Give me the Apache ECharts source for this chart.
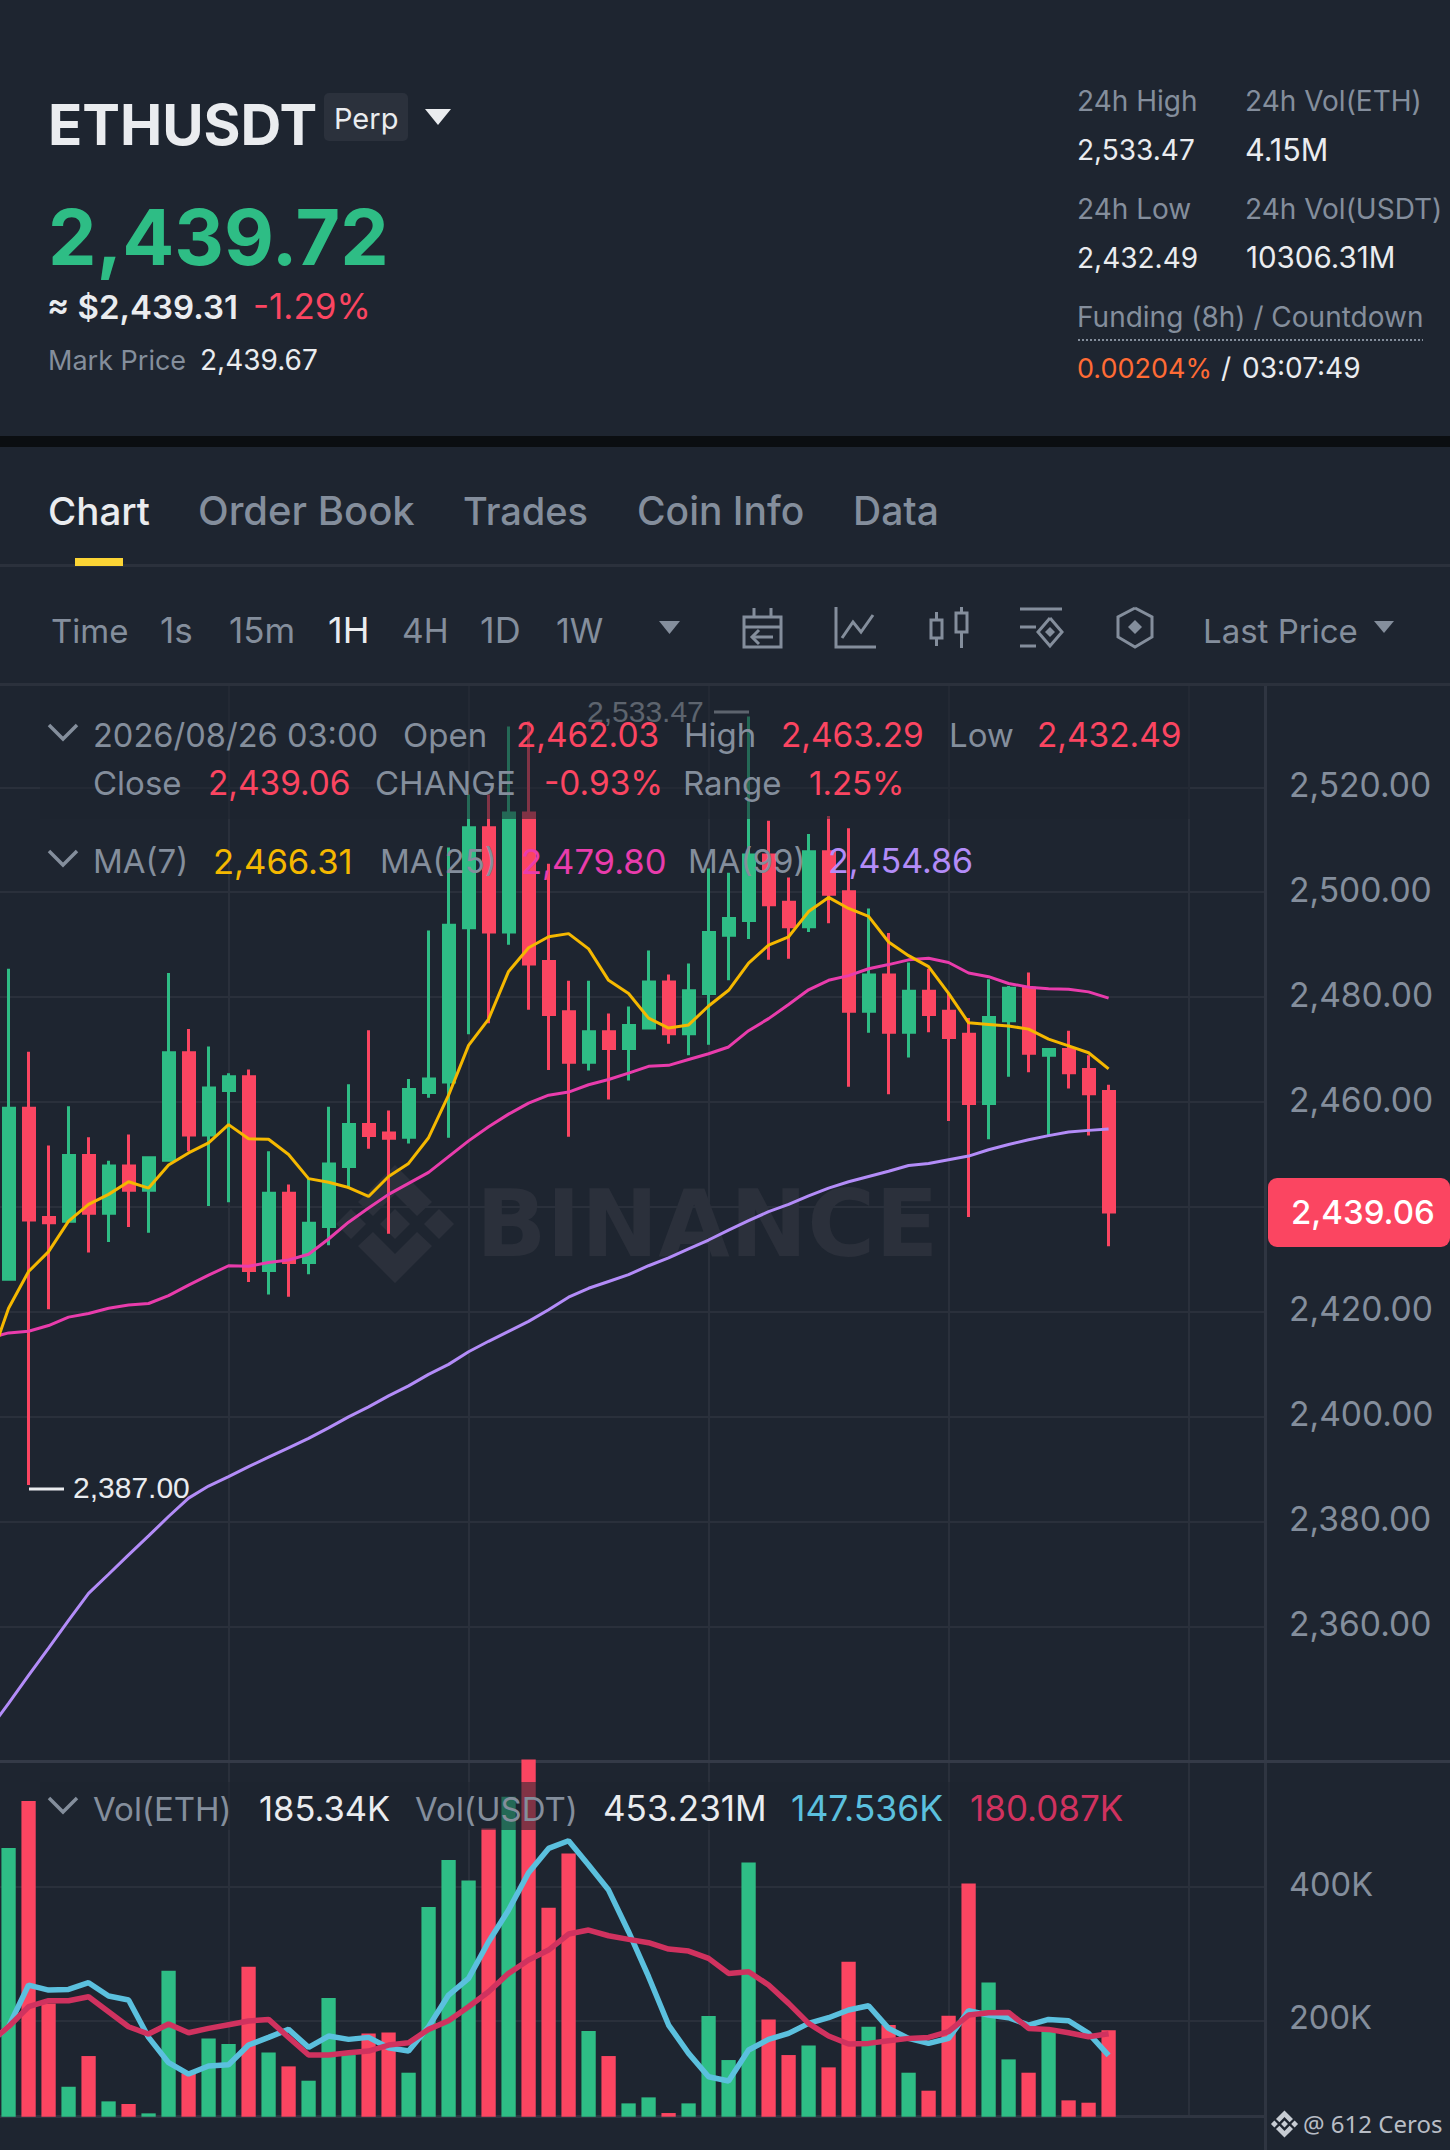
<!DOCTYPE html>
<html><head><meta charset="utf-8"><title>ETHUSDT Perp</title>
<style>html,body{margin:0;padding:0;background:#1e2530}#c{width:1450px;height:2150px}</style>
<script src="https://cdn.jsdelivr.net/npm/echarts@6/dist/echarts.min.js"></script></head>
<body><div id="c"></div>
<script>
const opens=[2426.2,2458.8,2438.0,2437.3,2449.8,2438.8,2447.8,2443.2,2448.9,2469.4,2453.7,2462.2,2464.8,2427.9,2442.6,2429.4,2436.3,2447.7,2455.7,2454.1,2453.3,2461.8,2463.8,2493.2,2512.3,2492.4,2515.1,2486.8,2477.2,2467.6,2473.4,2470.2,2474.1,2482.9,2473.0,2480.7,2491.8,2494.6,2507.1,2498.1,2493.4,2507.7,2500.1,2477.3,2484.2,2473.3,2481.1,2477.3,2472.9,2459.7,2475.5,2481.7,2468.9,2470.0,2466.2,2462.03];
const closes=[2458.8,2437.5,2437.0,2449.8,2438.8,2447.8,2443.2,2449.4,2469.4,2453.7,2462.7,2464.8,2427.9,2442.6,2429.4,2436.9,2448.2,2455.7,2453.6,2453.1,2462.4,2464.4,2493.7,2512.3,2492.4,2515.1,2486.3,2476.7,2467.6,2473.4,2470.2,2474.6,2482.9,2473.0,2481.2,2492.3,2495.0,2507.1,2497.6,2493.4,2507.7,2499.6,2477.3,2484.2,2473.3,2481.1,2476.7,2472.3,2459.7,2476.1,2481.7,2469.3,2470.0,2465.6,2461.6,2439.06];
const lows=[2426.2,2387.0,2420.5,2437.3,2431.3,2433.3,2436.2,2435.1,2448.9,2450.6,2440.2,2440.9,2425.7,2423.3,2422.9,2427.2,2432.7,2443.5,2451.1,2434.9,2452.1,2460.8,2453.2,2472.9,2475.0,2490.0,2477.6,2466.1,2453.4,2466.0,2460.5,2464.1,2474.1,2471.1,2468.9,2470.9,2483.2,2491.1,2487.1,2487.3,2492.4,2494.1,2462.9,2473.2,2461.5,2468.5,2473.3,2456.4,2438.1,2452.9,2464.8,2465.7,2453.6,2462.6,2453.6,2432.49];
const highs=[2485.4,2469.6,2451.7,2459.2,2453.3,2448.8,2453.8,2449.5,2484.6,2473.9,2470.6,2465.5,2466.2,2450.6,2444.3,2445.4,2459.1,2463.4,2473.7,2458.4,2464.4,2492.7,2508.5,2518.6,2518.6,2531.6,2532.6,2505.4,2483.1,2483.1,2476.9,2478.2,2488.9,2484.3,2486.4,2504.5,2503.7,2533.47,2513.6,2502.8,2511.1,2514.5,2512.2,2496.9,2492.2,2486.6,2485.4,2480.7,2476.0,2483.4,2482.1,2484.7,2470.3,2473.6,2468.9,2463.29];
const ma7=[2409.8,2420.7,2427.7,2431.5,2437.3,2440.5,2442.4,2444.8,2443.6,2448,2450.3,2452.2,2455.7,2453,2452.9,2450,2445.4,2444.7,2443.7,2442,2445.8,2448.3,2453.2,2461.3,2470.8,2475.8,2484.9,2489.4,2491.5,2492.1,2489.2,2483.2,2480.7,2476,2474.1,2474.7,2478.3,2481.3,2486.5,2489.9,2491.5,2496.3,2499,2496.9,2495.4,2490.5,2487.9,2485.8,2480.7,2475.1,2474.8,2474.5,2473.9,2472,2470.7,2469.4,2466.31];
const ma25=[2415,2416,2416.3,2417.4,2419,2419.7,2420.7,2421.3,2421.6,2423.1,2425.1,2427,2428.8,2428.7,2429.4,2429.9,2431,2433.9,2437.1,2439.8,2442.4,2444.5,2446.6,2449.6,2452.6,2455.3,2457.7,2459.8,2461.3,2461.9,2463.3,2464.3,2465.5,2466.8,2467,2468.1,2469.2,2470.5,2473.6,2475.9,2478.6,2481.4,2483.2,2484.1,2485.4,2486.2,2487.1,2487.4,2486.6,2484.6,2483.9,2482.6,2481.9,2481.6,2481.5,2481,2479.8];
const ma99=[2340.2,2345.4,2350.7,2355.9,2361.2,2366.35,2370,2373.7,2377.3,2381,2384.5,2386.8,2388.6,2390.5,2392.3,2394.1,2395.9,2397.9,2400,2401.9,2404,2405.9,2408.1,2410,2412.4,2414.4,2416.3,2418.2,2420.4,2422.8,2424.5,2425.8,2427.1,2428.8,2430.3,2432,2433.7,2435.6,2437.4,2439.1,2440.5,2442.1,2443.6,2444.8,2445.8,2446.8,2447.9,2448.3,2449,2449.7,2450.9,2451.9,2452.8,2453.6,2454.3,2454.6,2454.86];
const volumes=[458.5,529,225.5,100.5,146.5,78.5,74.5,60.5,274.5,120.5,173,164.5,280.5,152,131,109.5,233.5,148,180.5,182,121.5,370,440.5,410,488,535.5,591.5,369,450.5,184,146.5,75.5,84.5,61,75.5,206.5,140.5,437,201.5,148,162.5,129.5,288,190.5,193,121.5,94.5,207,405.5,257,141.5,121.5,185.5,80,76.5,185.34];
const volFast=[165,190.5,253,245.5,246.5,256.5,236.5,230.5,174.5,136.5,119.5,131.5,133.5,163,174.5,186.5,159.5,176.5,171.5,174.5,159,154,190.5,238,263,318,365.5,421.5,458,469.5,433,395.5,333,265.5,193,150.5,115.5,109,155.5,171.5,180.5,195.5,204,215.5,222,188,173,165.5,173,214.5,208,204,193,201.5,199.5,180.5,147.536];
const volSlow=[165,190.5,220.5,229.5,229.5,235.5,213,190.5,179.5,194.5,181.5,188,193.5,199,201.5,174.5,148,148,151.5,154,163,166.5,186.5,199.5,220.5,243,270.5,290.5,305.5,329.5,335.5,327,321.5,316.5,307,304,293,270.5,273,253,225.5,195.5,176.5,164.5,165.5,169.5,173,174.5,183,208,211.5,212,188,186.5,181.5,175.5,180.087];
const priceTicks=[2360,2380,2400,2420,2440,2460,2480,2500,2520];
const priceLabels=[2360,2380,2400,2420,2460,2480,2500,2520];
const volTicks=[200000,400000];
const gridCandles=[11,23,35,47,59];

const BG='#1e2530',GREEN='#2ebd85',RED='#fb4561',GREY='#848e9c',WHITE='#eaecef',LINE='#2a303b';
const FONT='Inter';
const el=[];
function txt(s,x,base,size,fill,opt={}){
  el.push({type:'text',silent:true,z:opt.z||60,style:{text:s,x:x,y:base-size*0.36,fill:fill,
    font:(opt.w||400)+' '+size+'px '+(opt.f||FONT),textAlign:opt.a||'left',textVerticalAlign:'middle',opacity:opt.op==null?1:opt.op}});
}
function rect(x,y,w,h,fill,opt={}){el.push({type:'rect',silent:true,z:opt.z||1,shape:{x,y,width:w,height:h,r:opt.r||0},style:{fill,opacity:opt.op==null?1:opt.op}});}
function poly(pts,fill,z=55){el.push({type:'polygon',silent:true,z,shape:{points:pts},style:{fill}});}
function pl(pts,stroke=GREY,lw=3,z=55){el.push({type:'polyline',silent:true,z,shape:{points:pts},style:{stroke,lineWidth:lw,fill:null}});}
function box(x,y,w,h,stroke=GREY,lw=3,z=55){el.push({type:'rect',silent:true,z,shape:{x,y,width:w,height:h},style:{stroke,lineWidth:lw,fill:null}});}

// header
rect(0,436,1450,11,'#0b0e11');
txt('ETHUSDT',48,145,56.5,WHITE,{w:700});
rect(324,93,84,48,'#2b313c',{r:5});
txt('Perp',334,129,29,WHITE);
poly([[425,109],[451,109],[438,125]],WHITE);
txt('2,439.72',48,265,77,GREEN,{w:700});
txt('≈ $2,439.31',47,319,33,WHITE,{w:600});
txt('-1.29%',253,319,35,RED);
txt('Mark Price',48,370,27,GREY);
txt('2,439.67',200,370,28,WHITE);
txt('24h High',1077,111,28,GREY);txt('24h Vol(ETH)',1245,111,28,GREY);
txt('2,533.47',1077,160,28,WHITE);txt('4.15M',1245,160,30.5,WHITE);
txt('24h Low',1077,219,28,GREY);txt('24h Vol(USDT)',1245,219,28,GREY);
txt('2,432.49',1077,268,28,WHITE);txt('10306.31M',1246,268,29.5,WHITE);
txt('Funding (8h) / Countdown',1077,327,28,GREY);
el.push({type:'line',silent:true,z:55,shape:{x1:1078,y1:340,x2:1423,y2:340},style:{stroke:GREY,lineWidth:2,lineDash:[2,2]}});
txt('0.00204%',1077,378,27,'#ff6b35');txt('/',1221,378,28,WHITE);txt('03:07:49',1242,378,28,WHITE);

// tabs
txt('Chart',48,525,38.5,WHITE,{w:500});
txt('Order Book',198,525,40,GREY,{w:500});txt('Trades',463,525,38,GREY,{w:500});
txt('Coin Info',637,525,39,GREY,{w:500});txt('Data',853,525,39,GREY,{w:500});
rect(0,564,1450,3,'#2b313c');
rect(75,558,48,8,'#fcd535',{z:5});

// toolbar
[['Time',51,33,GREY],['1s',160,35,GREY],['15m',229,35,GREY],['1H',328,36,WHITE],['4H',402,33.5,GREY],['1D',480,36,GREY],['1W',556,34,GREY]].forEach(t=>txt(t[0],t[1],643,t[2],t[3]));
poly([[659,621],[680,621],[669.5,634]],GREY);
txt('Last Price',1203,643,33,GREY);
poly([[1374,621],[1394,621],[1384,633]],GREY);
// calendar
box(744,617,37,30);pl([[744,627],[781,627]]);pl([[754,608],[754,617]]);pl([[771,608],[771,617]]);
pl([[773,637],[752,637]]);pl([[759,630],[752,637],[759,644]]);
// line-chart
pl([[836,607],[836,647],[876,647]]);pl([[842,638],[853,622],[861,632],[873,615]]);
// candles
box(931,620,11,18);pl([[936.5,612],[936.5,620]]);pl([[936.5,638],[936.5,646]]);
box(956,613,11,19);pl([[961.5,607],[961.5,613]]);pl([[961.5,632],[961.5,648]]);
// settings
pl([[1020,609],[1062,609]]);pl([[1020,627],[1036,627]]);pl([[1020,646],[1036,646]]);
pl([[1050,618],[1062,632],[1050,646],[1038,632],[1050,618]]);poly([[1050,627],[1055,632],[1050,637],[1045,632]],GREY);
// hexagon
pl([[1135,608],[1152,617],[1152,637],[1135,647],[1118,637],[1118,617],[1135,608]]);poly([[1135,620],[1142,627],[1135,634],[1128,627]],GREY);

rect(0,683,1450,3,'#2b313c');
rect(1264,686,3,1464,'#2f3541');
rect(0,1760,1450,3,'#343a47');

// watermark
const WM='#2b303b';
function logo(cx,cy,s,fill,z){
  const P=a=>a.map(p=>[cx+p[0]*s,cy+p[1]*s]);
  const D=(dx,r)=>[[dx-r,0],[dx,-r],[dx+r,0],[dx,r]];
  poly(P(D(0,15)),fill,z);
  poly(P(D(-44,15)),fill,z);
  poly(P(D(44,15)),fill,z);
  poly(P([[0,-59],[37,-22],[22,-8],[0,-30],[-22,-8],[-37,-22]]),fill,z);
  poly(P([[0,59],[37,22],[22,8],[0,30],[-22,8],[-37,22]]),fill,z);
}
logo(395,1224,1,WM,1);
txt('BINANCE',476,1257,92.5,WM,{w:700,z:1,f:'DejaVu Sans'});

// legends overlay
rect(40,686,1150,133,BG,{z:50,op:0.55});
rect(40,1782,1090,48,BG,{z:50,op:0.55});
pl([[714,712],[749,712]],'#aab1bb',3,45);
txt('2,533.47',587,722,30,'#aab1bb',{z:45,f:'Liberation Sans'});
pl([[29,1489],[64,1489]],'#eaecef',3,45);
txt('2,387.00',73,1498,30,'#eaecef',{z:45,f:'Liberation Sans'});

const LS=33,LV=33.4;
pl([[49,725],[63,739],[77,725]],GREY,3.5);
txt('2026/08/26 03:00',93,747,32.6,GREY);txt('Open',403,747,LS,GREY);txt('2,462.03',516,747,LV,RED);
txt('High',684,747,LS,GREY);txt('2,463.29',781,747,LV,RED);txt('Low',949,747,LS,GREY);txt('2,432.49',1037,747,LV,RED);
txt('Close',93,795,LS,GREY);txt('2,439.06',208,795,LV,RED);txt('CHANGE',375,795,LS,GREY);txt('-0.93%',544,795,LV,RED);
txt('Range',683,795,LS,GREY);txt('1.25%',809,795,LS,RED);
pl([[49,851],[63,865],[77,851]],GREY,3.5);
txt('MA(7)',93,873,LS,GREY);txt('2,466.31',213,873,34.6,'#f5b800');
txt('MA(25)',380,873,LS,GREY);txt('2,479.80',521,873,34.6,'#e93cac');
txt('MA(99)',688,873,LS,GREY);txt('2,454.86',828,873,34,'#b38cf8');
pl([[49,1798],[63,1812],[77,1798]],GREY,3.5);
txt('Vol(ETH)',93,1821,LS,GREY);txt('185.34K',259,1821,34.5,WHITE);
txt('Vol(USDT)',415,1821,LS,GREY);txt('453.231M',603,1821,35,WHITE);
txt('147.536K',791,1821,35.5,'#5bc0de');txt('180.087K',970,1821,35,'#d0325f');

// price tag
rect(1268,1178,182,69,RED,{r:9,z:50});
txt('2,439.06',1291,1224,33,'#ffffff',{z:60,w:500});

// credit
logo(1284.5,2124,0.23,'#c7ccd3',60);
txt('@ 612 Ceros',1303,2132,24,'#b8bdc5',{f:'Noto Sans'});

const candleData=opens.map((o,i)=>[i,o,closes[i],lows[i],highs[i]]);
const volData=volumes.map((v,i)=>({value:[i,v*1000],itemStyle:{color:closes[i]>=opens[i]?GREEN:RED}}));
const lineData=a=>a.map((v,i)=>[i-1,v]);
const lineK=a=>a.map((v,i)=>[i-1,v*1000]);
const xCommon={type:'value',min:-0.4285,max:62.82,
  axisLabel:{show:false},axisTick:{show:false,customValues:gridCandles},
  splitLine:{show:true,lineStyle:{color:LINE,width:2}}};
const lineS=(name,data,color,w,xi,yi)=>({name,type:'line',data,xAxisIndex:xi,yAxisIndex:yi,showSymbol:false,symbol:'none',silent:true,
  animation:false,z:5,lineStyle:{color,width:w},itemStyle:{color}});

const chart=echarts.init(document.getElementById('c'),null,{renderer:'svg',width:1450,height:2150});
chart.setOption({
  animation:false,backgroundColor:BG,
  grid:[{left:0,width:1265,top:686,height:1075},{left:0,width:1265,top:1759.1,height:357.6}],
  xAxis:[Object.assign({gridIndex:0,axisLine:{show:false}},xCommon),
         Object.assign({gridIndex:1,axisLine:{show:true,onZero:false,lineStyle:{color:'#2f3541',width:3}}},xCommon)],
  yAxis:[{type:'value',gridIndex:0,position:'right',min:2334.4,max:2539.3,scale:true,
      axisLine:{show:false},axisTick:{show:false,customValues:priceTicks},
      axisLabel:{margin:24,customValues:priceLabels,
        formatter:v=>'{a|'+v.toLocaleString('en-US',{minimumFractionDigits:2,maximumFractionDigits:2})+'}',
        rich:{a:{color:GREY,fontSize:33.6,fontFamily:FONT,padding:[0,0,6,0]}}},
      splitLine:{show:true,lineStyle:{color:LINE,width:2}}},
    {type:'value',gridIndex:1,position:'right',min:55500,max:592000,
      axisLine:{show:false},axisTick:{show:false,customValues:volTicks},
      axisLabel:{margin:24,customValues:volTicks,formatter:v=>'{a|'+(v/1000)+'K}',
        rich:{a:{color:GREY,fontSize:32.6,fontFamily:FONT,padding:[0,0,6,0]}}},
      splitLine:{show:true,lineStyle:{color:LINE,width:2}}}],
  graphic:{elements:el},
  series:[
    {name:'ETHUSDT',type:'candlestick',xAxisIndex:0,yAxisIndex:0,data:candleData,barWidth:11.5,silent:true,z:3,
      itemStyle:{color:GREEN,color0:RED,borderColor:GREEN,borderColor0:RED,borderWidth:3}},
    lineS('MA(99)',lineData(ma99),'#b38cf8',3,0,0),
    lineS('MA(25)',lineData(ma25),'#e93cac',3,0,0),
    lineS('MA(7)',lineData(ma7),'#f5b800',3,0,0),
    {name:'Vol',type:'bar',xAxisIndex:1,yAxisIndex:1,data:volData,barWidth:14.3,silent:true,z:3},
    lineS('MA fast',lineK(volFast),'#5bc0de',5.5,1,1),
    lineS('MA slow',lineK(volSlow),'#d0325f',5.5,1,1)
  ]
});
</script></body></html>
